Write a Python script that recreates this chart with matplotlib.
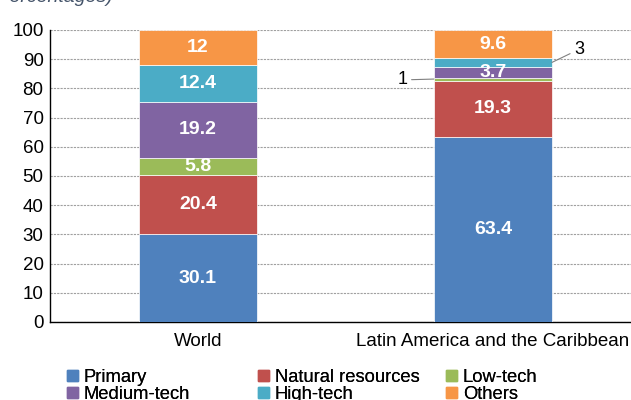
import matplotlib
matplotlib.use('Agg')
import matplotlib.pyplot as plt
import matplotlib.patches as mpatches
import numpy as np

plt.rcParams['font.family'] = ['Liberation Sans', 'DejaVu Sans']

# data
regions = ["World", "Latin America and the Caribbean"]
categories = ["Primary", "Natural resources", "Low-tech", "Medium-tech", "High-tech", "Others"]
world = [30.1, 20.4, 5.8, 19.2, 12.4, 12]
lac = [63.4, 19.3, 1, 3.7, 3, 9.6]
colors = ["#4F81BD", "#C0504D", "#9BBB59", "#8064A2", "#4BACC6", "#F79646"]

values = np.array([world, lac])  # rows = regions

fig = plt.figure(figsize=(6.31, 4.0), dpi=100)
ax = fig.add_axes([0.08, 0.195, 0.935, 0.73])

x = np.arange(len(regions))
bottom = np.zeros(len(regions))
for i, cat in enumerate(categories):
    ax.bar(x, values[:, i], width=0.4, bottom=bottom, color=colors[i],
           edgecolor='white', linewidth=0.5, label=cat, zorder=3)
    for j in range(len(regions)):
        v = values[j, i]
        mid = bottom[j] + v / 2
        if v >= 3.5:
            ax.text(x[j], mid, f"{v:g}", ha='center', va='center', color='white',
                    fontsize=14, fontweight='bold', zorder=4)
    bottom += values[:, i]

# small segments labelled outside the LAC bar
lac_cum = np.cumsum(lac)
low_mid = lac_cum[1] + lac[2] / 2
high_mid = lac_cum[3] + lac[4] / 2
ax.annotate("1", xy=(1 - 0.2, low_mid), xytext=(1 - 0.29, low_mid - 0.3),
            ha='right', va='center', fontsize=13,
            arrowprops=dict(arrowstyle='-', color='#808080', lw=0.8, shrinkA=1, shrinkB=0))
ax.annotate("3", xy=(1 + 0.2, high_mid), xytext=(1 + 0.275, high_mid + 4.5),
            ha='left', va='center', fontsize=13,
            arrowprops=dict(arrowstyle='-', color='#808080', lw=0.8, shrinkA=1, shrinkB=0))

ax.set_xlim(-0.5, 1.5)
ax.set_ylim(0, 100)
ax.set_yticks(np.arange(0, 101, 10))
ax.set_xticks(x)
ax.set_xticklabels(regions, fontsize=13.5)
ax.tick_params(axis='both', length=0, labelsize=13.5)
ax.tick_params(axis='y', pad=5)
ax.tick_params(axis='x', pad=8)
ax.yaxis.grid(True, linestyle=(0, (2, 1)), color='#A0A0A0', linewidth=0.8, zorder=0)
ax.spines['top'].set_visible(False)
ax.spines['right'].set_visible(False)
ax.spines['left'].set_linewidth(1)
ax.spines['bottom'].set_linewidth(1)

# title, cut at top of the image
fig.text(0.179, 0.995, "(Percentages)", ha='right', va='baseline',
         fontsize=14, style='italic', color='#44546A')

# legend in three columns
col_x = [67 / 631, 258 / 631, 446 / 631]
for c in range(3):
    idx = [c, c + 3]
    handles = [mpatches.Patch(color=colors[k], label=categories[k]) for k in idx]
    leg = fig.legend(handles=handles, loc='upper left',
                     bbox_to_anchor=(col_x[c] - 0.02, 0.11), frameon=False,
                     fontsize=13.2, handlelength=0.6, handleheight=0.6,
                     handletextpad=0.3, labelspacing=0.0, borderpad=0.2)
    fig.add_artist(leg)

plt.savefig("out.png", dpi=100)
plt.close(fig)
